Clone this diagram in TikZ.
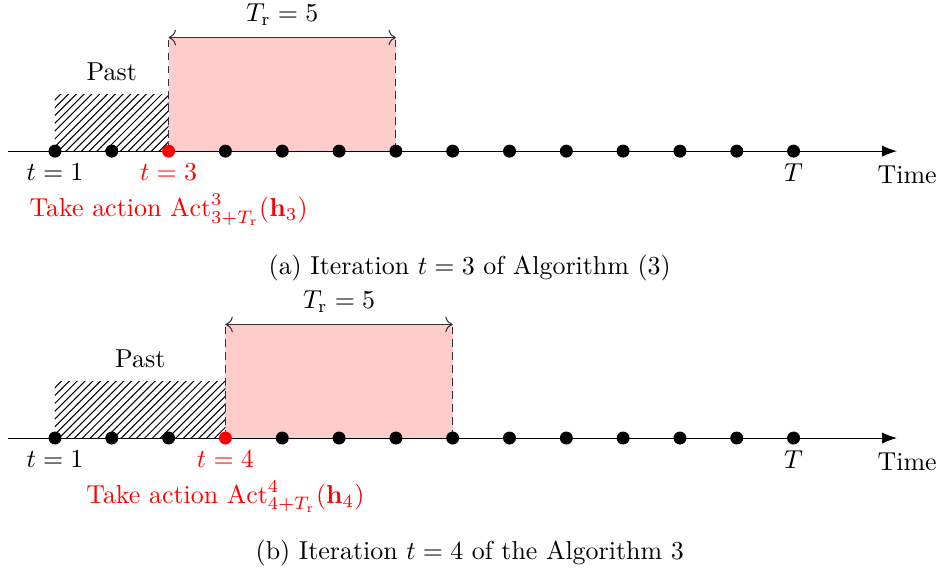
\documentclass[tikz,border=0pt]{standalone}
\usepackage{amsmath}
\usepackage{tikz}
\usetikzlibrary{arrows.meta,positioning,patterns}

\begin{document}
\begin{tikzpicture}[x=0.77cm,y=0.77cm,
  dot/.style={circle,fill=black,inner sep=0pt,minimum size=5pt},
  nowdot/.style={dot,fill=red},
  window/.style={fill=red!20,draw=none},
  pastbox/.style={pattern=north east lines,draw=none},
  edge/.style={densely dashed,black!80},
  tick/.style={inner sep=1pt},
  span/.style={{To[length=1mm]}-{To[length=1mm]},black!80}]
  \useasboundingbox (-0.968,2.66) rectangle (15.56,-7.46);

  % (a) iteration t = 3
  \begin{scope}
    \fill[window] (2,0) rectangle (6,2);
    \fill[pastbox] (0,0) rectangle (2,1);
    \draw[edge] (2,0) -- (2,2); \draw[edge] (6,0) -- (6,2);
    \coordinate (ws) at (2,2); \coordinate (we) at (6,2);
    \draw[span] (ws) -- node[above=1pt,black] (tr) {$T_\mathrm{r}=5$} (we);
    \node (past) at (1,1.4) {Past};
    \coordinate (axs) at (-0.83,0); \coordinate (axe) at (14.82,0);
    \draw[-{Latex[length=2mm]}] (axs) -- (axe);
    \foreach \i in {1,2,4,5,...,14} \node[dot] (a\i) at (\i-1,0) {};
    \node[nowdot] (a3) at (2,0) {};
    \node[tick,below=1pt of a1] (t1) {$t=1$};
    \node[tick,red,below=1pt of a3] (t3) {$t=3$};
    \node[tick,below=1pt of a14] (bigT) {$T$};
    \node (time) at (15.0,-0.42) {Time};
    \node[tick,red] (act) at (2,-1.03) {Take action $\mathrm{Act}^{3}_{3+T_\mathrm{r}}(\mathbf{h}_3)$};
    \node (capa) at (7.3,-2.05) {(a) Iteration $t=3$ of Algorithm (3)};
  \end{scope}

  % (b) iteration t = 4
  \begin{scope}[shift={(0,-5.05)}]
    \fill[window] (3,0) rectangle (7,2);
    \fill[pastbox] (0,0) rectangle (3,1);
    \draw[edge] (3,0) -- (3,2); \draw[edge] (7,0) -- (7,2);
    \coordinate (vs) at (3,2); \coordinate (ve) at (7,2);
    \draw[span] (vs) -- node[above=1pt,black] (trb) {$T_\mathrm{r}=5$} (ve);
    \node (pastb) at (1.5,1.4) {Past};
    \coordinate (bxs) at (-0.83,0); \coordinate (bxe) at (14.82,0);
    \draw[-{Latex[length=2mm]}] (bxs) -- (bxe);
    \foreach \i in {1,2,3,5,6,...,14} \node[dot] (b\i) at (\i-1,0) {};
    \node[nowdot] (b4) at (3,0) {};
    \node[tick,below=1pt of b1] (s1) {$t=1$};
    \node[tick,red,below=1pt of b4] (s4) {$t=4$};
    \node[tick,below=1pt of b14] (bigTb) {$T$};
    \node (timeb) at (15.0,-0.42) {Time};
    \node[tick,red] (actb) at (3,-1.03) {Take action $\mathrm{Act}^{4}_{4+T_\mathrm{r}}(\mathbf{h}_4)$};
    \node (capb) at (7.3,-2.02) {(b) Iteration $t=4$ of the Algorithm 3};
  \end{scope}
\end{tikzpicture}
\end{document}
